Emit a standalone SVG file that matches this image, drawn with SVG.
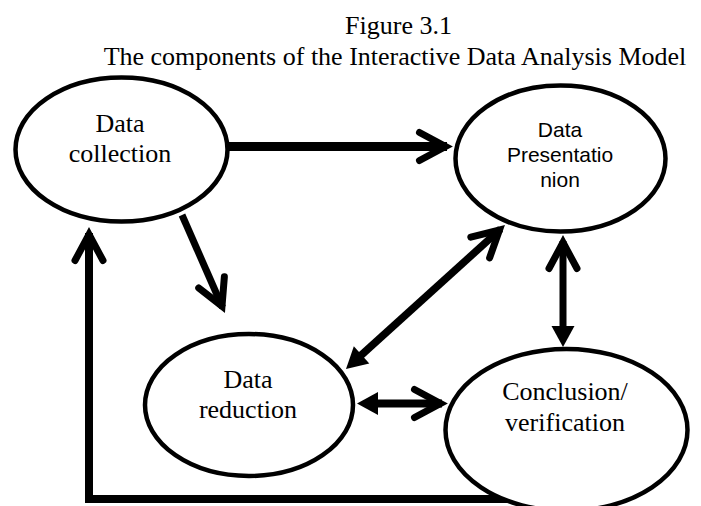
<svg xmlns="http://www.w3.org/2000/svg" width="701" height="506" viewBox="0 0 701 506">
  <style>
    .node ellipse { fill: #ffffff; stroke: #000000; stroke-width: 4.5; }
    .serif { font-family: "Liberation Serif", "Times New Roman", serif; font-size: 26px; fill: #000000; text-anchor: middle; }
    .sans { font-family: "Liberation Sans", Arial, sans-serif; font-size: 21px; fill: #000000; text-anchor: middle; }
    .edge { fill: none; stroke: #000000; stroke-linecap: butt; stroke-linejoin: miter; }
  </style>
  <defs>
    <marker id="chev" markerUnits="userSpaceOnUse" orient="auto-start-reverse" markerWidth="60" markerHeight="60" refX="0" refY="0" overflow="visible">
      <path d="M -27.5 -14 L -1.5 0 L -27.5 14" fill="none" stroke="#000000" stroke-width="7" stroke-linecap="round" stroke-linejoin="miter" stroke-miterlimit="10"/>
    </marker>
    <marker id="tri" markerUnits="userSpaceOnUse" orient="auto-start-reverse" markerWidth="60" markerHeight="60" refX="0" refY="0" overflow="visible">
      <path d="M 12 0 L -9 -11.5 L -9 11.5 Z" fill="#000000" stroke="none"/>
    </marker>
  </defs>
  <rect x="0" y="0" width="701" height="506" fill="#ffffff"/>

  <g id="title">
    <text class="serif" x="398.5" y="34">Figure 3.1</text>
    <text class="serif" x="395" y="65">The components of the Interactive Data Analysis Model</text>
  </g>

  <g id="connectors">
    <line class="edge" x1="228" y1="146.5" x2="447" y2="146.5" stroke-width="9" marker-end="url(#chev)"/>
    <line class="edge" x1="182" y1="215" x2="222.6" y2="307.5" stroke-width="7" marker-end="url(#chev)"/>
    <line class="edge" x1="354.9" y1="360.9" x2="500.6" y2="229" stroke-width="7.5" marker-start="url(#tri)" marker-end="url(#chev)"/>
    <line class="edge" x1="563" y1="241" x2="563" y2="335" stroke-width="7" marker-start="url(#chev)" marker-end="url(#tri)"/>
    <line class="edge" x1="369" y1="403.5" x2="442" y2="403.5" stroke-width="8" marker-start="url(#tri)" marker-end="url(#chev)"/>
    <polyline class="edge" points="507,499 89,499 89,233" stroke-width="8" marker-end="url(#chev)"/>
  </g>

  <g id="data-collection" class="node">
    <ellipse cx="121.5" cy="149.5" rx="106" ry="72"/>
    <text class="serif" x="120" y="132">Data</text>
    <text class="serif" x="120" y="162">collection</text>
  </g>

  <g id="data-presentation" class="node">
    <ellipse cx="560.5" cy="158.5" rx="105" ry="73"/>
    <text class="sans" x="560" y="137">Data</text>
    <text class="sans" x="560" y="162">Presentatio</text>
    <text class="sans" x="560" y="187">nion</text>
  </g>

  <g id="data-reduction" class="node">
    <ellipse cx="249" cy="405" rx="104" ry="71"/>
    <text class="serif" x="248" y="388">Data</text>
    <text class="serif" x="248" y="418">reduction</text>
  </g>

  <g id="conclusion-verification" class="node">
    <ellipse cx="566.5" cy="430" rx="121" ry="81"/>
    <text class="serif" x="565" y="400">Conclusion/</text>
    <text class="serif" x="565" y="431">verification</text>
  </g>
</svg>
